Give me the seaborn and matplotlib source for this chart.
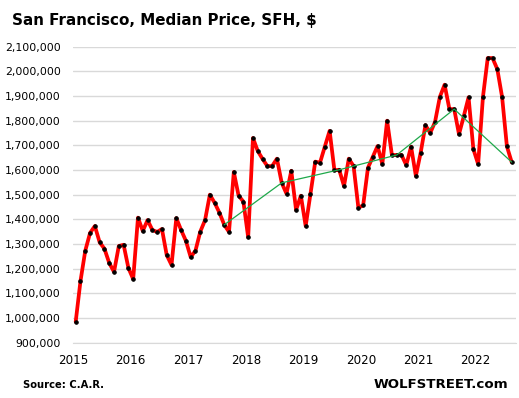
import numpy as np
import pandas as pd
import matplotlib
matplotlib.use("Agg")
import matplotlib.pyplot as plt
import seaborn as sns

# ---------- data: monthly median price, Jan 2015 .. Aug 2022 (thousands $) ----------
start_year = 2015
prices_k = [
    985, 1150, 1273, 1345, 1373, 1307, 1281, 1223, 1187, 1292, 1297, 1203,   # 2015
    1158, 1407, 1353, 1397, 1357, 1349, 1361, 1255, 1215, 1405, 1357, 1313,  # 2016
    1247, 1273, 1350, 1397, 1500, 1467, 1427, 1378, 1349, 1592, 1496, 1472,  # 2017
    1327, 1730, 1677, 1645, 1616, 1616, 1646, 1548, 1504, 1597, 1438, 1496,  # 2018
    1373, 1503, 1634, 1630, 1695, 1759, 1599, 1601, 1535, 1646, 1616, 1447,  # 2019
    1457, 1609, 1653, 1697, 1624, 1800, 1661, 1661, 1661, 1620, 1695, 1576,  # 2020
    1670, 1782, 1750, 1795, 1896, 1946, 1847, 1847, 1745, 1818, 1895, 1685,  # 2021
    1624, 1896, 2054, 2054, 2009, 1896, 1696, 1632,                          # 2022
]
# green line joins the August values year over year (indices into prices_k)
aug_idx = [31, 43, 55, 67, 79, 91]

year_ticks = [2015, 2016, 2017, 2018, 2019, 2020, 2021, 2022]
y_ticks = list(range(900000, 2100001, 100000))

df = pd.DataFrame({
    "t": [start_year + (i + 0.5) / 12 for i in range(len(prices_k))],
    "price": [p * 1000 for p in prices_k],
})
aug = df.iloc[aug_idx]

# ---------- plot ----------
sns.set_style("white")
plt.rcParams["font.family"] = ["DejaVu Sans"]

fig = plt.figure(figsize=(5.19, 3.98), dpi=100)
ax = fig.add_axes([73.3 / 519, 55.3 / 398, 442.7 / 519, 296 / 398])

sns.lineplot(data=df, x="t", y="price", ax=ax, color="#ff0000", linewidth=2.7,
             marker="o", markersize=2.5, markerfacecolor="black",
             markeredgecolor="black", zorder=3)
sns.lineplot(data=aug, x="t", y="price", ax=ax, color="#1ea84a", linewidth=0.9,
             zorder=4)

ax.set_xlim(2015, 2022.7)
ax.set_ylim(900000, 2100000)
ax.set_xticks(year_ticks)
ax.set_xticklabels([str(y) for y in year_ticks], fontsize=8.6)
ax.set_yticks(y_ticks)
ax.set_yticklabels([f"{v:,}" for v in y_ticks], fontsize=7.8)
ax.set_xlabel("")
ax.set_ylabel("")

ax.grid(axis="y", color="#d9d9d9", linewidth=1)
ax.grid(axis="x", visible=False)
for s in ["top", "right", "left"]:
    ax.spines[s].set_visible(False)
ax.spines["bottom"].set_color("#d9d9d9")
ax.tick_params(axis="x", length=4, color="#d9d9d9", pad=4, labelcolor="black")
ax.tick_params(axis="y", length=0, pad=9, labelcolor="black")

fig.text(12 / 519, 1 - 20 / 398, "San Francisco, Median Price, SFH, $",
         fontsize=10.9, fontweight="bold", va="center", ha="left", color="black")
fig.text(23 / 519, 1 - 385 / 398, "Source: C.A.R.", fontsize=7.2,
         fontweight="bold", va="center", ha="left", color="black")
fig.text(508 / 519, 1 - 384 / 398, "WOLFSTREET.com", fontsize=9.6,
         fontweight="bold", va="center", ha="right", color="black")

fig.savefig("out.png", dpi=100)
